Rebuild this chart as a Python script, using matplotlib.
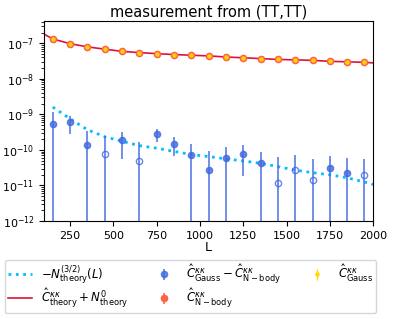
import numpy as np
import matplotlib
matplotlib.use('Agg')
import matplotlib.pyplot as plt

# bin centres
L = [150, 250, 350, 450, 550, 650, 750, 850, 950, 1050,
     1150, 1250, 1350, 1450, 1550, 1650, 1750, 1850, 1950]

# measured spectra (N-body and Gauss)
c_nbody = [1.32e-7, 0.97e-7, 0.79e-7, 0.68e-7, 0.59e-7, 0.545e-7, 0.51e-7, 0.48e-7, 0.46e-7, 0.44e-7,
           0.41e-7, 0.39e-7, 0.37e-7, 0.35e-7, 0.34e-7, 0.33e-7, 0.31e-7, 0.30e-7, 0.29e-7]
c_gauss = [1.32e-7, 0.97e-7, 0.79e-7, 0.68e-7, 0.59e-7, 0.545e-7, 0.51e-7, 0.48e-7, 0.46e-7, 0.44e-7,
           0.41e-7, 0.39e-7, 0.37e-7, 0.35e-7, 0.34e-7, 0.33e-7, 0.31e-7, 0.30e-7, 0.29e-7]
err_nbody = [2e-9, 1.5e-9, 1e-9, 8e-10, 6e-10, 5e-10, 4e-10, 4e-10, 3e-10, 3e-10,
             3e-10, 2e-10, 2e-10, 2e-10, 2e-10, 2e-10, 2e-10, 2e-10, 2e-10]
err_gauss = err_nbody

# difference Gauss - N-body (negative values drawn as open circles)
diff = [5.2e-10, 6.0e-10, 1.36e-10, -0.79e-10, 1.87e-10, -0.49e-10, 2.77e-10, 1.48e-10, 0.71e-10, 0.28e-10,
        0.58e-10, 0.79e-10, 0.43e-10, -0.12e-10, -0.27e-10, -0.145e-10, 0.32e-10, 0.22e-10, -0.20e-10]
diff_err = [6.8e-10, 3.2e-10, 2.1e-10, 1.6e-10, 1.33e-10, 1.2e-10, 1.1e-10, 0.8e-10, 0.75e-10, 0.68e-10,
            0.6e-10, 0.6e-10, 0.47e-10, 0.5e-10, 0.45e-10, 0.4e-10, 0.37e-10, 0.36e-10, 0.34e-10]

# theory curves
L_th = [100, 150, 250, 350, 450, 550, 650, 750, 850, 950, 1050,
        1150, 1250, 1350, 1450, 1550, 1650, 1750, 1850, 1950, 2000]
c_theory = [1.8e-7, 1.32e-7, 0.97e-7, 0.79e-7, 0.68e-7, 0.59e-7, 0.545e-7, 0.51e-7, 0.48e-7, 0.46e-7, 0.44e-7,
            0.41e-7, 0.39e-7, 0.37e-7, 0.35e-7, 0.34e-7, 0.33e-7, 0.31e-7, 0.30e-7, 0.29e-7, 0.28e-7]
L_n32 = [150, 250, 350, 450, 550, 650, 750, 850, 950, 1050,
         1150, 1250, 1350, 1450, 1550, 1650, 1750, 1850, 1950, 2000]
n32 = [1.6e-9, 0.75e-9, 0.37e-9, 0.235e-9, 1.75e-10, 1.32e-10, 1.12e-10, 0.91e-10, 0.74e-10, 0.65e-10,
       0.56e-10, 0.49e-10, 0.42e-10, 0.34e-10, 0.27e-10, 0.23e-10, 0.20e-10, 0.165e-10, 0.125e-10, 0.107e-10]

L = np.array(L)
diff = np.array(diff)
diff_err = np.array(diff_err)
absd = np.abs(diff)
lo = np.where(absd - diff_err > 0, diff_err, absd * (1 - 1e-6))
pos = diff > 0

fig = plt.figure(figsize=(3.94, 3.19), dpi=100)
ax = fig.add_axes([0.112, 0.307, 0.835, 0.627])

ax.plot(L_n32, n32, ls=':', color='deepskyblue', lw=2, label=r'$-N^{(3/2)}_{\rm theory}(L)$')
ax.plot(L_th, c_theory, '-', color='crimson', lw=1.2, label=r'$\hat{C}^{\kappa\kappa}_{\rm theory}+N^0_{\rm theory}$')

ax.errorbar(L[pos], absd[pos], yerr=[lo[pos], diff_err[pos]], fmt='o', color='royalblue',
            ms=4.5, lw=1.3, alpha=0.8, label=r'$\hat{C}^{\kappa\kappa}_{\rm Gauss}-\hat{C}^{\kappa\kappa}_{\rm N-body}$')
ax.errorbar(L[~pos], absd[~pos], yerr=[lo[~pos], diff_err[~pos]], fmt='o', mfc='none', color='royalblue',
            ms=4.5, lw=1.3, alpha=0.8)
ax.errorbar(L, c_nbody, yerr=err_nbody, fmt='o', color='tomato', ms=4.5, lw=1.2,
            label=r'$\hat{C}^{\kappa\kappa}_{\rm N-body}$')
ax.errorbar(L, c_gauss, yerr=err_gauss, fmt='o', color='gold', ms=2.2, lw=1.0,
            label=r'$\hat{C}^{\kappa\kappa}_{\rm Gauss}$')

ax.set_yscale('log')
ax.set_xlim(100, 2000)
ax.set_ylim(1e-12, 4.2e-7)
ax.set_xticks([250, 500, 750, 1000, 1250, 1500, 1750, 2000])
ax.tick_params(labelsize=8)
ax.set_xlabel('L', fontsize=9, labelpad=0)
ax.set_title('measurement from (TT,TT)', fontsize=10.5, pad=3)

handles, labels = ax.get_legend_handles_labels()
fig.legend(handles, labels, loc='lower left', bbox_to_anchor=(5 / 394, 6 / 319, 371 / 394, 0),
           mode='expand', ncol=3, fontsize=8.5, borderaxespad=0, labelspacing=0.05, borderpad=0.25)

fig.savefig('out.png', dpi=100)
